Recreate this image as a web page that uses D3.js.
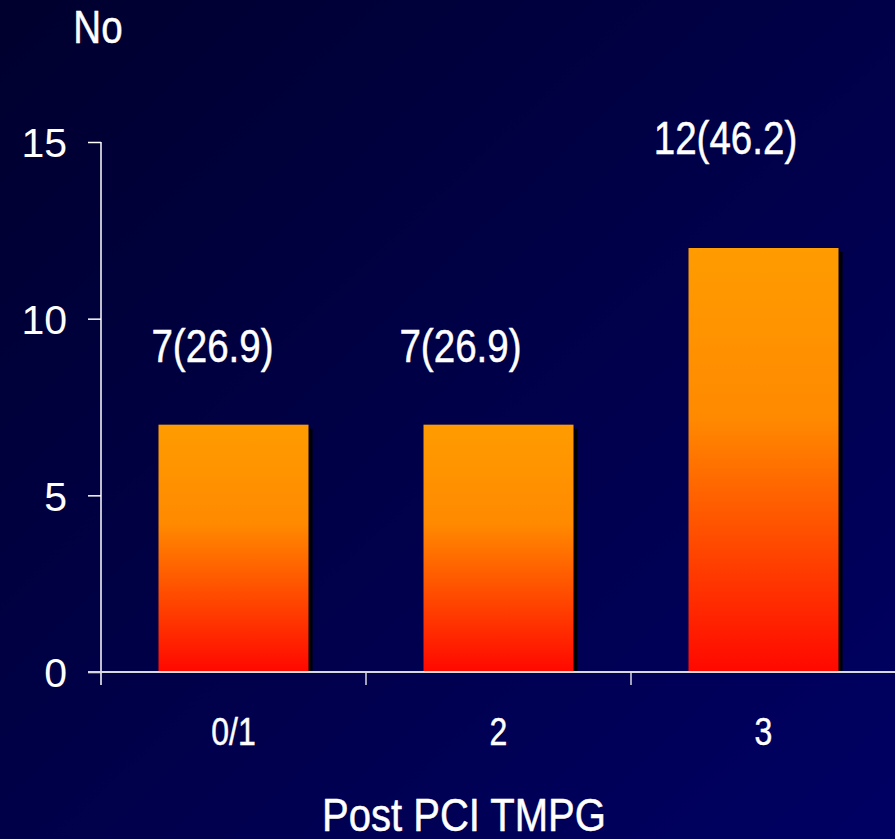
<!DOCTYPE html>
<html>
<head>
<meta charset="utf-8">
<script src="https://cdn.jsdelivr.net/npm/d3@7"></script>
<style>
  html, body { margin: 0; padding: 0; background: #000040; }
  svg { display: block; }
  text { font-family: "Liberation Sans", Arial, sans-serif; }
</style>
</head>
<body>
<script>
// Post-PCI TMPG grade counts (n, with percentage in brackets)
const categories = ["0/1", "2", "3"];
const counts = [7, 7, 12];
const percents = [26.9, 26.9, 46.2];
const yTicks = [0, 5, 10, 15];
const yTitle = "No";
const xTitle = "Post PCI TMPG";

const W = 895, H = 839;
const svg = d3.select("body").append("svg").attr("width", W).attr("height", H);
const defs = svg.append("defs");

// Narrow-face look: squeeze each glyph run horizontally and thicken it a touch
function narrow(sel, factor = 0.82) {
  sel.each(function () {
    const len = this.getComputedTextLength();
    d3.select(this).attr("textLength", len * factor).attr("lengthAdjust", "spacingAndGlyphs")
      .attr("stroke", "#ffffff").attr("stroke-width", 0.5);
  });
}

// Slide background: deep navy, slightly lighter towards the bottom right
const bg = defs.append("linearGradient").attr("id", "bg")
  .attr("x1", "0").attr("y1", "0").attr("x2", "1").attr("y2", "1");
bg.append("stop").attr("offset", "0%").attr("stop-color", "#00002e");
bg.append("stop").attr("offset", "100%").attr("stop-color", "#000064");
svg.append("rect").attr("width", W).attr("height", H).attr("fill", "url(#bg)");

// Bar fill: orange at the top fading to red at the base
const barGrad = defs.append("linearGradient").attr("id", "barGrad")
  .attr("x1", "0").attr("y1", "0").attr("x2", "0").attr("y2", "1");
barGrad.append("stop").attr("offset", "0%").attr("stop-color", "#ff9c00");
barGrad.append("stop").attr("offset", "40%").attr("stop-color", "#ff8a00");
barGrad.append("stop").attr("offset", "100%").attr("stop-color", "#ff0800");

const plotLeft = 101, plotRight = 896, plotTop = 142, plotBottom = 672;

const y = d3.scaleLinear().domain([0, 15]).range([plotBottom, plotTop]);
const x = d3.scaleBand().domain(categories).range([plotLeft, plotRight])
  .paddingInner(0.434).paddingOuter(0.217);

// Y axis
const yAxis = svg.append("g").attr("transform", `translate(${plotLeft},0)`)
  .call(d3.axisLeft(y).tickValues(yTicks).tickSize(13).tickPadding(21).tickFormat(d3.format("d")));
yAxis.select(".domain").remove();
yAxis.selectAll(".tick line").attr("stroke", "#ffffff").attr("stroke-width", 1.5);
yAxis.selectAll(".tick text").attr("fill", "#ffffff")
  .attr("font-family", "'Liberation Sans', Arial, sans-serif")
  .attr("font-size", 41).attr("dy", "0.36em");
svg.append("line").attr("x1", plotLeft).attr("x2", plotLeft).attr("y1", plotTop).attr("y2", plotBottom + 13)
  .attr("stroke", "#ffffff").attr("stroke-width", 1.5);

// Bars with a hard black drop shadow
const bars = svg.append("g");
bars.selectAll("rect.shadow").data(counts).join("rect").attr("class", "shadow")
  .attr("x", (d, i) => x(categories[i]) + 4)
  .attr("y", d => y(d) + 4)
  .attr("width", x.bandwidth())
  .attr("height", d => y(0) - y(d) - 4)
  .attr("fill", "#000000");
bars.selectAll("rect.bar").data(counts).join("rect").attr("class", "bar")
  .attr("x", (d, i) => x(categories[i]))
  .attr("y", d => y(d))
  .attr("width", x.bandwidth())
  .attr("height", d => y(0) - y(d))
  .attr("fill", "url(#barGrad)");

// X axis baseline and category boundary ticks
svg.append("line").attr("x1", plotLeft - 13).attr("x2", W).attr("y1", plotBottom).attr("y2", plotBottom)
  .attr("stroke", "#d8d8e0").attr("stroke-width", 2);
const boundaries = d3.range(1, categories.length).map(i => plotLeft + i * x.step());
svg.selectAll("line.xtick").data(boundaries).join("line").attr("class", "xtick")
  .attr("x1", d => d).attr("x2", d => d).attr("y1", plotBottom).attr("y2", plotBottom + 13)
  .attr("stroke", "#d8d8e0").attr("stroke-width", 1.5);

const xAxis = svg.append("g").attr("transform", `translate(0,${plotBottom})`)
  .call(d3.axisBottom(x).tickSize(0).tickPadding(0));
xAxis.select(".domain").remove();
xAxis.selectAll(".tick text").attr("fill", "#ffffff")
  .attr("font-family", "'Liberation Sans', Arial, sans-serif")
  .attr("font-size", 39).attr("dy", 0).attr("y", 73)
  .call(narrow);

// Value labels: count (percent)
const labelShift = [[-21, -63], [-38, -63], [-38, -94]];
svg.selectAll("text.val").data(counts).join("text").attr("class", "val")
  .attr("x", (d, i) => x(categories[i]) + x.bandwidth() / 2 + labelShift[i][0])
  .attr("y", (d, i) => y(d) + labelShift[i][1])
  .attr("text-anchor", "middle").attr("fill", "#ffffff").attr("font-size", 47)
  .text((d, i) => `${d}(${percents[i].toFixed(1)})`)
  .call(narrow);

// Titles
svg.append("text").attr("x", 98).attr("y", 43)
  .attr("text-anchor", "middle").attr("fill", "#ffffff").attr("font-size", 47)
  .text(yTitle).call(narrow);
svg.append("text").attr("x", 464).attr("y", 831)
  .attr("text-anchor", "middle").attr("fill", "#ffffff").attr("font-size", 46)
  .text(xTitle).call(narrow, 0.87);
</script>
</body>
</html>
